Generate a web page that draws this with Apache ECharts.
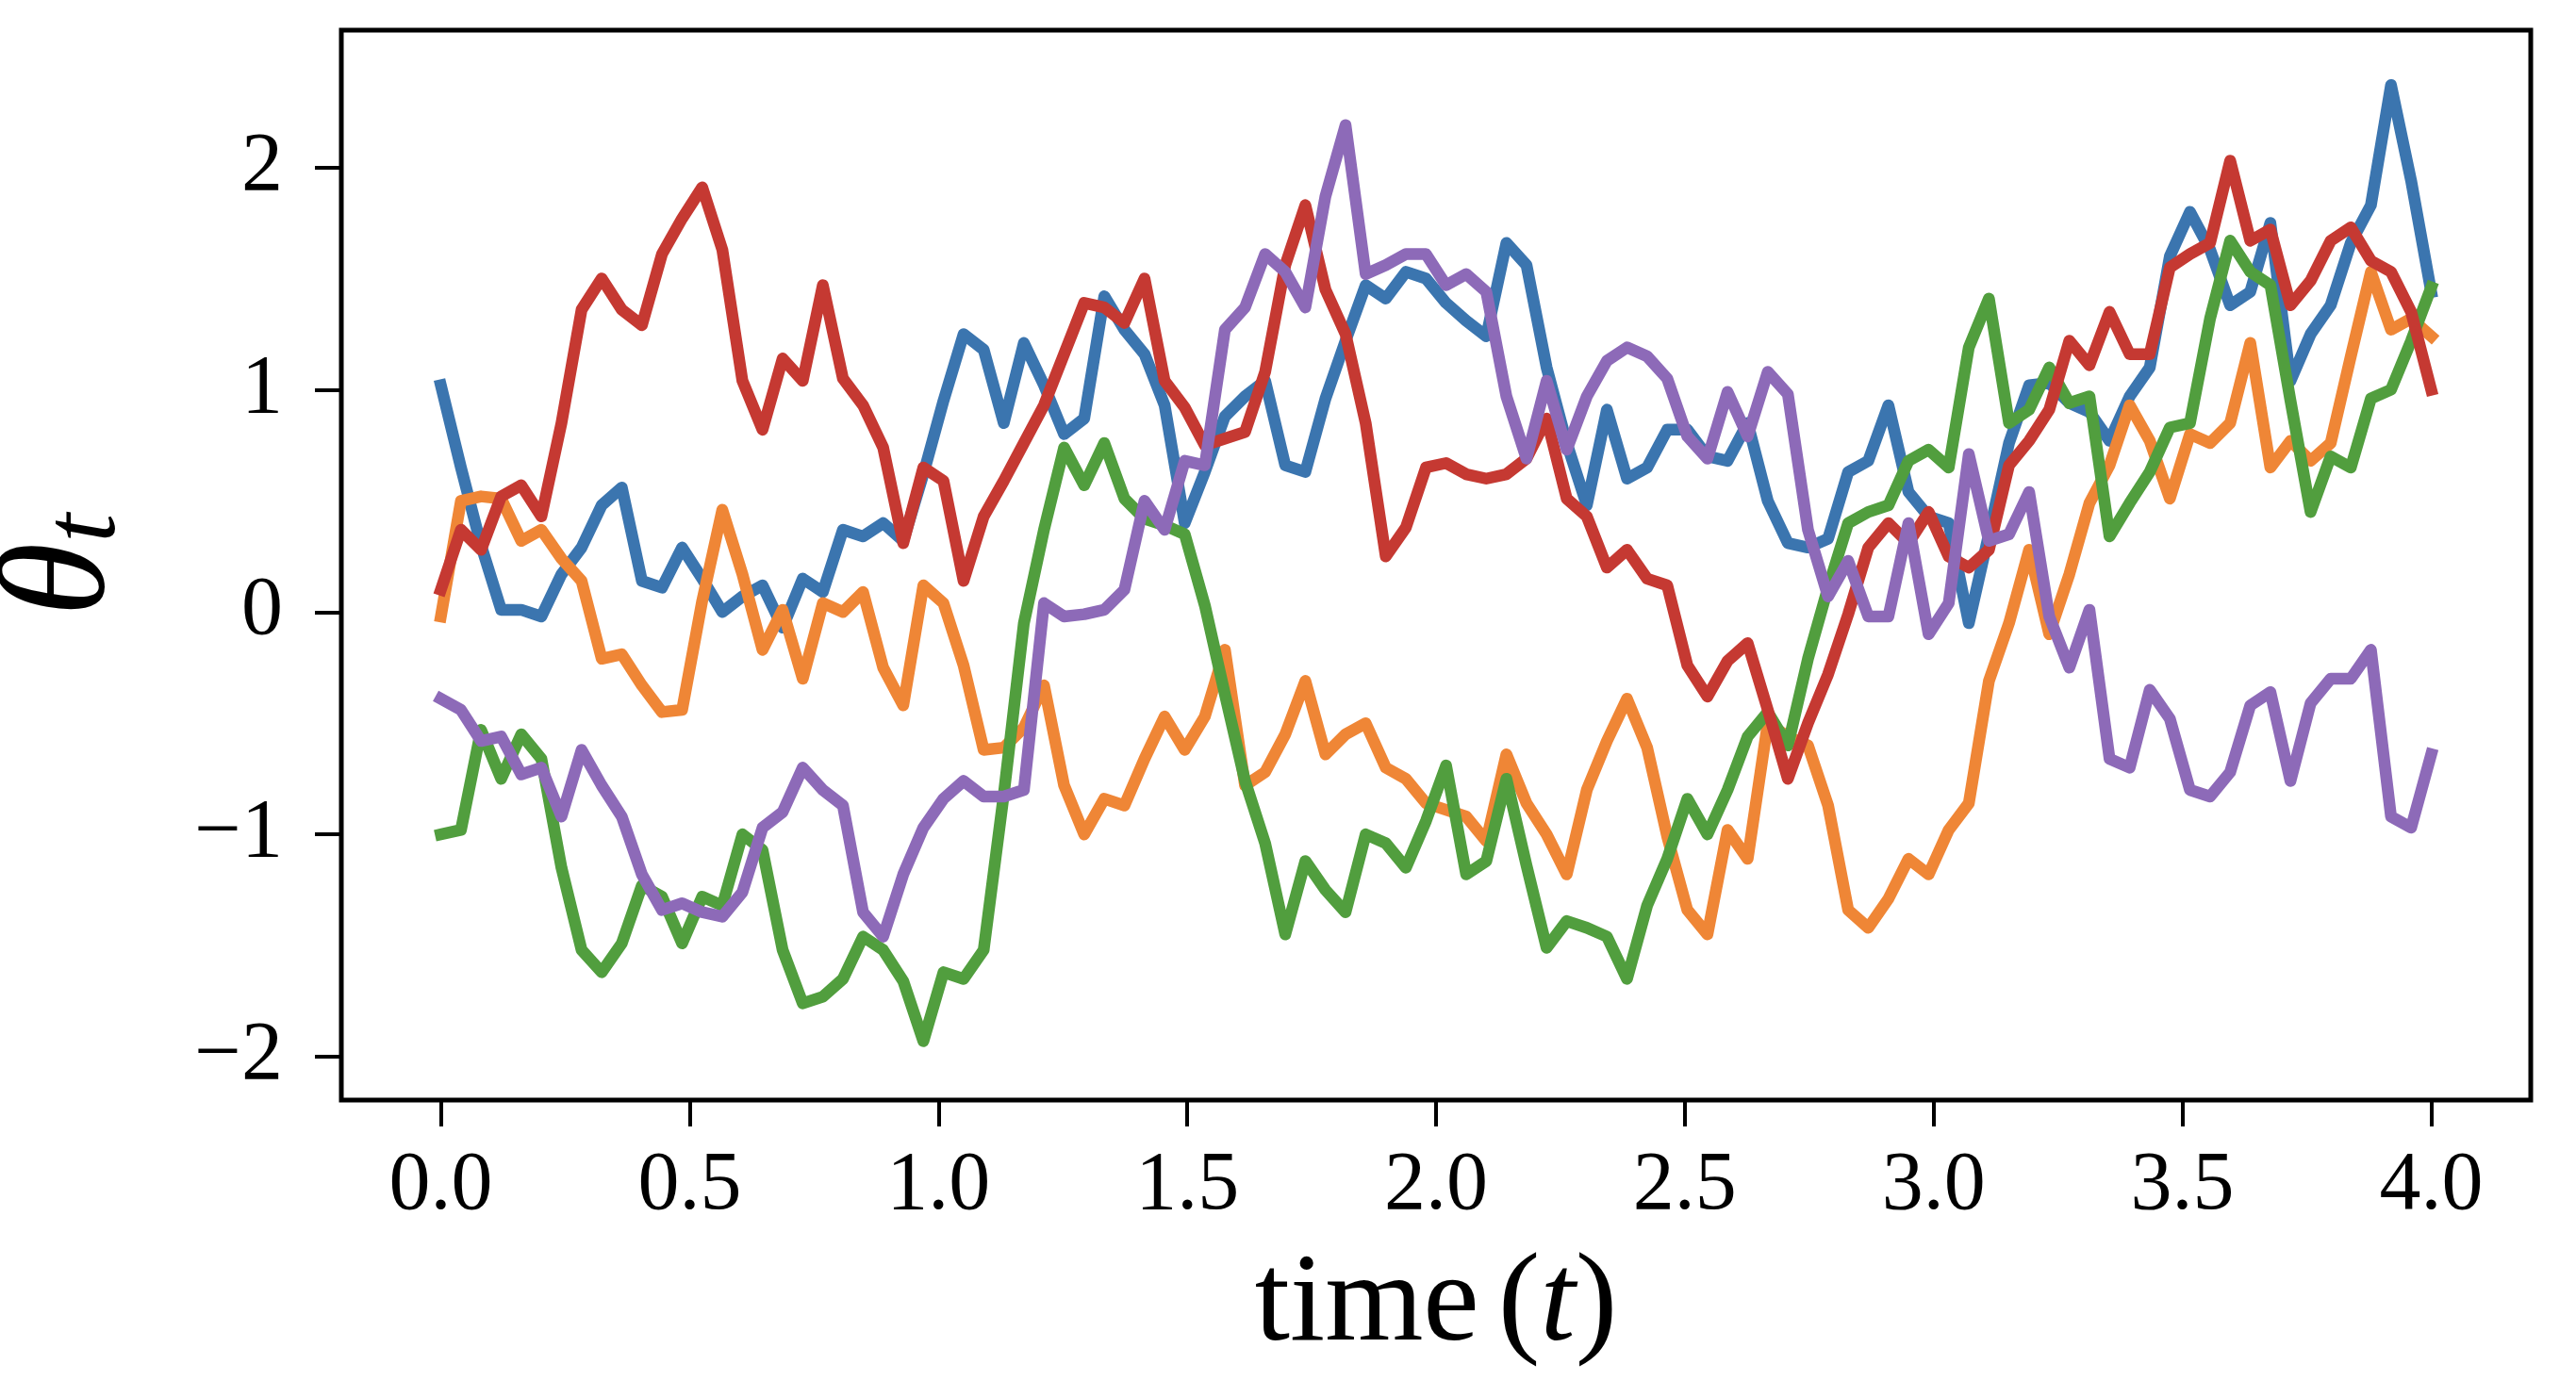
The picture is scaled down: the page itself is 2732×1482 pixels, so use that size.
<!DOCTYPE html>
<html>
<head>
<meta charset="utf-8">
<script src="https://cdn.jsdelivr.net/npm/echarts@6/dist/echarts.min.js"></script>
<style>
  html, body { margin: 0; padding: 0; background: #fff; }
  #chart { width: 2732px; height: 1482px; }
</style>
</head>
<body>
<div id="chart"></div>
<script>
// 100 samples on [0, 4]
var nSteps = 100;
var times = [];
for (var k = 0; k < nSteps; k++) times.push(4 * k / (nSteps - 1));

var xTicks = [0, 0.5, 1, 1.5, 2, 2.5, 3, 3.5, 4];
var yTicks = [-2, -1, 0, 1, 2];

var blue = [
  1.02, 0.65, 0.30, 0.01, 0.01, -0.02, 0.17, 0.29, 0.48, 0.56,
  0.14, 0.11, 0.29, 0.15, 0.00, 0.07, 0.12, -0.07, 0.15, 0.09,
  0.37, 0.34, 0.40, 0.32, 0.62, 0.95, 1.25, 1.18, 0.85, 1.21,
  1.02, 0.80, 0.87, 1.42, 1.27, 1.16, 0.93, 0.40, 0.63, 0.88,
  0.97, 1.04, 0.66, 0.63, 0.96, 1.22, 1.47, 1.41, 1.53, 1.50,
  1.39, 1.31, 1.24, 1.66, 1.56, 1.10, 0.76, 0.48, 0.91, 0.60,
  0.65, 0.82, 0.82, 0.70, 0.68, 0.85, 0.50, 0.31, 0.29, 0.33,
  0.63, 0.68, 0.93, 0.54, 0.43, 0.40, -0.05, 0.35, 0.76, 1.02,
  1.03, 0.94, 0.90, 0.77, 0.97, 1.10, 1.60, 1.80, 1.63, 1.38,
  1.44, 1.75, 1.04, 1.25, 1.38, 1.66, 1.83, 2.37, 1.94, 1.44
];
var orange = [
  -0.02, 0.50, 0.52, 0.51, 0.32, 0.37, 0.24, 0.14, -0.21, -0.19,
  -0.33, -0.45, -0.44, 0.05, 0.46, 0.17, -0.17, 0.01, -0.30, 0.04,
  0.00, 0.09, -0.25, -0.42, 0.12, 0.04, -0.24, -0.62, -0.61, -0.52,
  -0.33, -0.78, -1.00, -0.84, -0.87, -0.66, -0.47, -0.62, -0.47, -0.17,
  -0.78, -0.72, -0.55, -0.31, -0.64, -0.55, -0.50, -0.70, -0.75, -0.86,
  -0.89, -0.92, -1.03, -0.64, -0.86, -1.00, -1.18, -0.80, -0.58, -0.39,
  -0.61, -1.01, -1.34, -1.45, -0.98, -1.11, -0.50, -0.56, -0.60, -0.87,
  -1.34, -1.42, -1.29, -1.11, -1.18, -0.98, -0.86, -0.31, -0.05, 0.28,
  -0.10, 0.17, 0.49, 0.66, 0.93, 0.77, 0.51, 0.80, 0.76, 0.85,
  1.21, 0.65, 0.77, 0.68, 0.76, 1.15, 1.53, 1.27, 1.32, 1.24
];
var green = [
  -1.00, -0.98, -0.53, -0.75, -0.55, -0.66, -1.15, -1.52, -1.62, -1.49,
  -1.23, -1.28, -1.49, -1.28, -1.32, -1.00, -1.07, -1.52, -1.76, -1.73,
  -1.65, -1.46, -1.52, -1.66, -1.93, -1.62, -1.65, -1.52, -0.82, -0.05,
  0.37, 0.74, 0.57, 0.76, 0.51, 0.42, 0.39, 0.35, 0.03, -0.37,
  -0.76, -1.04, -1.45, -1.12, -1.25, -1.35, -1.00, -1.04, -1.15, -0.94,
  -0.69, -1.18, -1.12, -0.75, -1.14, -1.51, -1.39, -1.42, -1.46, -1.65,
  -1.32, -1.11, -0.84, -1.00, -0.80, -0.56, -0.45, -0.60, -0.21, 0.11,
  0.40, 0.45, 0.48, 0.68, 0.73, 0.65, 1.19, 1.41, 0.85, 0.91,
  1.10, 0.94, 0.97, 0.34, 0.49, 0.63, 0.83, 0.85, 1.32, 1.67,
  1.53, 1.47, 0.95, 0.45, 0.70, 0.65, 0.96, 1.00, 1.22, 1.46
];
var red = [
  0.10, 0.37, 0.28, 0.52, 0.57, 0.43, 0.85, 1.36, 1.50, 1.36,
  1.29, 1.61, 1.77, 1.91, 1.63, 1.04, 0.82, 1.14, 1.04, 1.47,
  1.05, 0.93, 0.74, 0.31, 0.65, 0.59, 0.14, 0.43, 0.59, 0.76,
  0.93, 1.16, 1.39, 1.37, 1.30, 1.50, 1.04, 0.92, 0.75, 0.78,
  0.81, 1.08, 1.56, 1.83, 1.45, 1.25, 0.85, 0.25, 0.38, 0.65,
  0.67, 0.62, 0.60, 0.62, 0.69, 0.87, 0.51, 0.43, 0.20, 0.28,
  0.15, 0.12, -0.24, -0.38, -0.22, -0.14, -0.44, -0.75, -0.50, -0.28,
  -0.01, 0.29, 0.40, 0.31, 0.45, 0.25, 0.20, 0.28, 0.66, 0.77,
  0.91, 1.22, 1.11, 1.35, 1.16, 1.16, 1.55, 1.61, 1.66, 2.03,
  1.67, 1.72, 1.38, 1.49, 1.67, 1.73, 1.58, 1.53, 1.35, 1.00
];
var purple = [
  -0.39, -0.44, -0.58, -0.56, -0.73, -0.70, -0.92, -0.62, -0.78, -0.92,
  -1.18, -1.34, -1.31, -1.35, -1.37, -1.26, -0.97, -0.90, -0.70, -0.80,
  -0.87, -1.35, -1.46, -1.18, -0.97, -0.84, -0.76, -0.83, -0.83, -0.80,
  0.04, -0.02, -0.01, 0.01, 0.10, 0.50, 0.37, 0.68, 0.66, 1.27,
  1.37, 1.61, 1.53, 1.37, 1.87, 2.19, 1.52, 1.56, 1.61, 1.61,
  1.47, 1.52, 1.44, 0.97, 0.69, 1.04, 0.73, 0.97, 1.13, 1.19,
  1.15, 1.05, 0.79, 0.69, 0.99, 0.79, 1.08, 0.98, 0.37, 0.07,
  0.23, -0.02, -0.02, 0.40, -0.10, 0.04, 0.71, 0.32, 0.35, 0.54,
  -0.02, -0.25, 0.01, -0.66, -0.70, -0.35, -0.48, -0.80, -0.83, -0.72,
  -0.42, -0.36, -0.76, -0.41, -0.30, -0.30, -0.17, -0.92, -0.97, -0.64
];

var paths = [blue, orange, green, red, purple];
var colors = ['#3b75af', '#ef8636', '#519e3e', '#c53932', '#8d6ab8'];

var FONT = 'Liberation Serif';

function pairs(vals) {
  return vals.map(function (v, i) { return [times[i], v]; });
}

function minus(s) {
  return String(s).replace('-', '\u2212');
}

var chart = echarts.init(document.getElementById('chart'), null, { renderer: 'canvas' });

var option = {
  animation: false,
  backgroundColor: '#fff',
  grid: {
    left: 362, right: 48, top: 32, bottom: 315,
    outerBoundsMode: 'none',
    containLabel: false,
    show: true, borderColor: '#000', borderWidth: 5,
    backgroundColor: 'transparent'
  },
  xAxis: {
    type: 'value',
    min: -0.2,
    max: 4.2,
    axisLine: { show: false, onZero: false },
    splitLine: { show: false },
    axisTick: {
      show: true, customValues: xTicks, length: 28,
      lineStyle: { color: '#000', width: 4 }
    },
    axisLabel: {
      customValues: xTicks,
      margin: 48,
      fontFamily: FONT, fontSize: 88, color: '#000',
      formatter: function (v) { return minus(v.toFixed(1)); }
    },
    name: '{n|time}{s| }{p|(}{it|t}{p|)}',
    nameLocation: 'middle',
    nameGap: 152,
    nameTextStyle: {
      rich: {
        n: { fontFamily: FONT, fontSize: 134, color: '#000' },
        s: { fontFamily: FONT, fontSize: 80, color: '#000' },
        p: { fontFamily: FONT, fontSize: 134, color: '#000' },
        it: { fontFamily: FONT, fontSize: 134, fontStyle: 'italic', color: '#000' }
      }
    }
  },
  yAxis: {
    type: 'value',
    min: -2.195,
    max: 2.617,
    axisLine: { show: false, onZero: false },
    splitLine: { show: false },
    axisTick: {
      show: true, customValues: yTicks, length: 28,
      lineStyle: { color: '#000', width: 4 }
    },
    axisLabel: {
      customValues: yTicks,
      margin: 62,
      fontFamily: FONT, fontSize: 88, color: '#000',
      formatter: function (v) { return minus(v); }
    },
    name: '{th|\u03b8}{sub|t}',
    nameLocation: 'middle',
    nameRotate: 90,
    nameGap: 215,
    nameTextStyle: {
      rich: {
        th: { fontFamily: FONT, fontSize: 160, fontStyle: 'italic', color: '#000', lineHeight: 160 },
        sub: { fontFamily: FONT, fontSize: 110, fontStyle: 'italic', color: '#000',
               verticalAlign: 'bottom', lineHeight: 60 }
      }
    }
  },
  series: paths.map(function (vals, i) {
    return {
      type: 'line',
      data: pairs(vals),
      showSymbol: false,
      silent: true,
      clip: true,
      lineStyle: { color: colors[i], width: 12.5, join: 'round', cap: 'square' },
      z: 2 + i
    };
  })
};

chart.setOption(option);
</script>
</body>
</html>
